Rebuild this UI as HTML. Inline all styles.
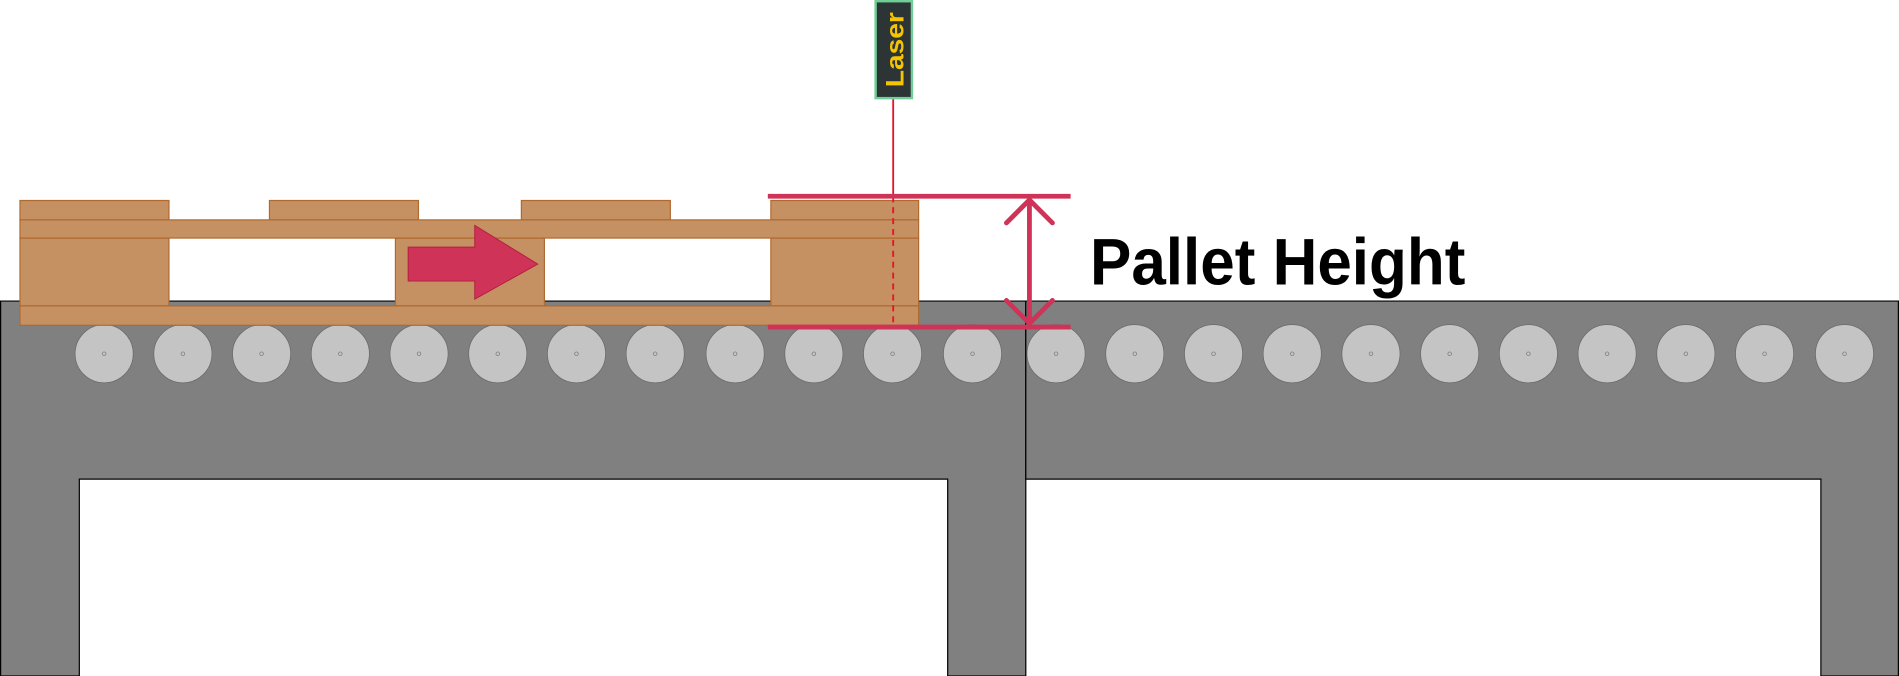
<!DOCTYPE html>
<html><head><meta charset="utf-8"><style>html,body{margin:0;padding:0;background:#fff}svg{display:block}</style></head>
<body>
<svg width="1899" height="676" viewBox="0 0 1568 558" preserveAspectRatio="none" xmlns="http://www.w3.org/2000/svg">
<rect width="1568" height="558" fill="#fff"/>
<!-- conveyor -->
<path d="M0.5 248.5 H847 V558 H782.5 V395.5 H65.5 V558 H0.5 Z" fill="#808080" stroke="#000" stroke-width="1"/>
<path d="M847 248.5 H1567.5 V558 H1503.5 V395.5 H847 Z" fill="#808080" stroke="#000" stroke-width="1"/>
<g fill="#c4c4c4" stroke="#6a6a6a" stroke-width="0.6">
<circle cx="86" cy="292" r="24"/><circle cx="151" cy="292" r="24"/><circle cx="216" cy="292" r="24"/><circle cx="281" cy="292" r="24"/><circle cx="346" cy="292" r="24"/><circle cx="411" cy="292" r="24"/><circle cx="476" cy="292" r="24"/><circle cx="541" cy="292" r="24"/><circle cx="607" cy="292" r="24"/><circle cx="672" cy="292" r="24"/><circle cx="737" cy="292" r="24"/><circle cx="803" cy="292" r="24"/>
<circle cx="872" cy="292" r="24"/><circle cx="937" cy="292" r="24"/><circle cx="1002" cy="292" r="24"/><circle cx="1067" cy="292" r="24"/><circle cx="1132" cy="292" r="24"/><circle cx="1197" cy="292" r="24"/><circle cx="1262" cy="292" r="24"/><circle cx="1327" cy="292" r="24"/><circle cx="1392" cy="292" r="24"/><circle cx="1457" cy="292" r="24"/><circle cx="1523" cy="292" r="24"/>
</g>
<g fill="none" stroke="#777" stroke-width="0.6">
<circle cx="86" cy="292" r="1.5"/><circle cx="151" cy="292" r="1.5"/><circle cx="216" cy="292" r="1.5"/><circle cx="281" cy="292" r="1.5"/><circle cx="346" cy="292" r="1.5"/><circle cx="411" cy="292" r="1.5"/><circle cx="476" cy="292" r="1.5"/><circle cx="541" cy="292" r="1.5"/><circle cx="607" cy="292" r="1.5"/><circle cx="672" cy="292" r="1.5"/><circle cx="737" cy="292" r="1.5"/><circle cx="803" cy="292" r="1.5"/>
<circle cx="872" cy="292" r="1.5"/><circle cx="937" cy="292" r="1.5"/><circle cx="1002" cy="292" r="1.5"/><circle cx="1067" cy="292" r="1.5"/><circle cx="1132" cy="292" r="1.5"/><circle cx="1197" cy="292" r="1.5"/><circle cx="1262" cy="292" r="1.5"/><circle cx="1327" cy="292" r="1.5"/><circle cx="1392" cy="292" r="1.5"/><circle cx="1457" cy="292" r="1.5"/><circle cx="1523" cy="292" r="1.5"/>
</g>
<!-- pallet -->
<g fill="#c69162" stroke="#b06a30" stroke-width="1">
<rect x="16.5" y="165.5" width="123" height="16"/>
<rect x="222.5" y="165.5" width="123" height="16"/>
<rect x="430.5" y="165.5" width="123" height="16"/>
<rect x="636.5" y="165.5" width="122" height="16"/>
<rect x="16.5" y="196.5" width="123" height="56"/>
<rect x="326.5" y="196.5" width="123" height="56"/>
<rect x="636.5" y="196.5" width="122" height="56"/>
<rect x="16.5" y="181.5" width="742" height="15"/>
<rect x="16.5" y="252.5" width="742" height="16"/>
</g>
<!-- arrow -->
<path d="M337 204 H392 V186 L444 218 L392 247 V232 H337 Z" fill="#d03358" stroke="#b02040" stroke-width="0.8"/>
<!-- laser -->
<line x1="737.5" y1="81" x2="737.5" y2="162" stroke="#e8102a" stroke-width="1.5"/>
<line x1="737.5" y1="162" x2="737.5" y2="268" stroke="#e8102a" stroke-width="1.5" stroke-dasharray="5,4"/>
<rect x="723" y="1" width="30" height="80" fill="#2d3436" stroke="#6fcf97" stroke-width="2"/>
<text x="0" y="0" transform="translate(746 41) rotate(-90)" text-anchor="middle" font-family="Liberation Sans, sans-serif" font-weight="bold" font-size="21" fill="#f5c400" textLength="62" lengthAdjust="spacingAndGlyphs">Laser</text>
<!-- measurement -->
<g stroke="#d03358" stroke-width="4" fill="none" stroke-linecap="round">
<line x1="634" y1="162" x2="884" y2="162" stroke-linecap="butt"/>
<line x1="634" y1="270" x2="884" y2="270" stroke-linecap="butt"/>
<line x1="850" y1="166" x2="850" y2="266"/>
<polyline points="831,184 850,165 869,184"/>
<polyline points="831,248 850,267 869,248"/>
</g>
<text x="900" y="235" font-family="Liberation Sans, sans-serif" font-weight="bold" font-size="54" fill="#000" textLength="310" lengthAdjust="spacingAndGlyphs">Pallet Height</text>
</svg>
</body></html>
